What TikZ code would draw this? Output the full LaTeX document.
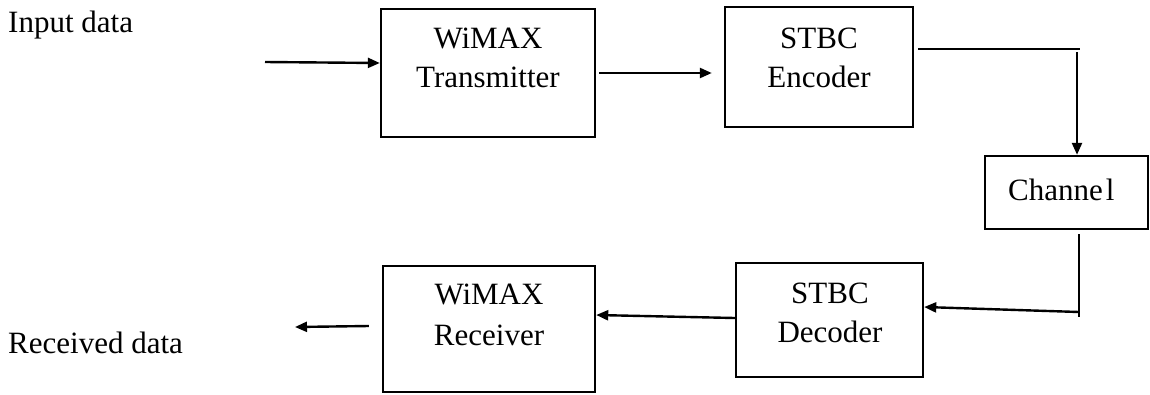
\documentclass[tikz,border=0pt]{standalone}
\usepackage{fontspec}
\setmainfont{Liberation Serif}
\usetikzlibrary{arrows.meta}
\begin{document}
\begin{tikzpicture}[x=1pt,y=-1pt,
  box/.style={draw=black,line width=2.4pt,inner sep=0pt,minimum width=#1},
  txt/.style={anchor=base,inner sep=0pt,font=\fontsize{31}{36}\selectfont},
  ltxt/.style={anchor=base west,inner sep=0pt,font=\fontsize{31}{36}\selectfont},
  link/.style={draw=black,line width=2.4pt},
  arr/.style={link,-{Triangle[length=12pt,width=10pt]}}]
\useasboundingbox (0,0) rectangle (1150,394);
% boxes
\node[box=214pt,minimum height=128pt] (tx)  at (488,73) {};
\node[box=188pt,minimum height=120pt] (enc) at (819,67) {};
\node[box=163pt,minimum height=73pt]  (ch)  at (1066.5,192.5) {};
\node[box=187pt,minimum height=114pt] (dec) at (829.5,320) {};
\node[box=212pt,minimum height=126pt] (rx)  at (489,329) {};
% texts
\node[ltxt] (lin)  at (8,32) {Input data};
\node[ltxt] (lout) at (8,353) {Received data};
\node[txt] (tx1)  at (488,48) {WiMAX};
\node[txt] (tx2)  at (488,87) {Transmitter};
\node[txt] (enc1) at (819,48) {STBC};
\node[txt] (enc2) at (819,87) {Encoder};
\node[ltxt] (ch1) at (1008,200) {Channe\hspace{3pt}l};
\node[txt] (dec1) at (830,303) {STBC};
\node[txt] (dec2) at (830,342) {Decoder};
\node[txt] (rx1)  at (489,304) {WiMAX};
\node[txt] (rx2)  at (489,345) {Receiver};
% connectors
\coordinate (in0) at (265,62);
\coordinate (c0) at (1080,49);
\coordinate (c1) at (1077,52);
\coordinate (c2) at (1079,317);
\coordinate (out) at (295,327);
\draw[arr] (in0) -- ([yshift=10pt]tx.west);
\draw[arr] ([xshift=3pt]tx.east) -- ([xshift=-12pt]enc.west |- tx.east);
\draw[link] ([xshift=4pt,yshift=18pt]enc.east) -- (c0);
\draw[arr] (c1) -- (c1 |- ch.north);
\draw[link] ([yshift=-4pt]ch.south -| c2) -- (c2);
\draw[arr] ([yshift=5pt]c2) -- ([yshift=13pt]dec.east);
\draw[arr] ([yshift=2pt]dec.west) -- ([yshift=14pt]rx.east);
\draw[arr] ([xshift=-13pt,yshift=3pt]rx.west) -- (out);
\end{tikzpicture}
\end{document}
